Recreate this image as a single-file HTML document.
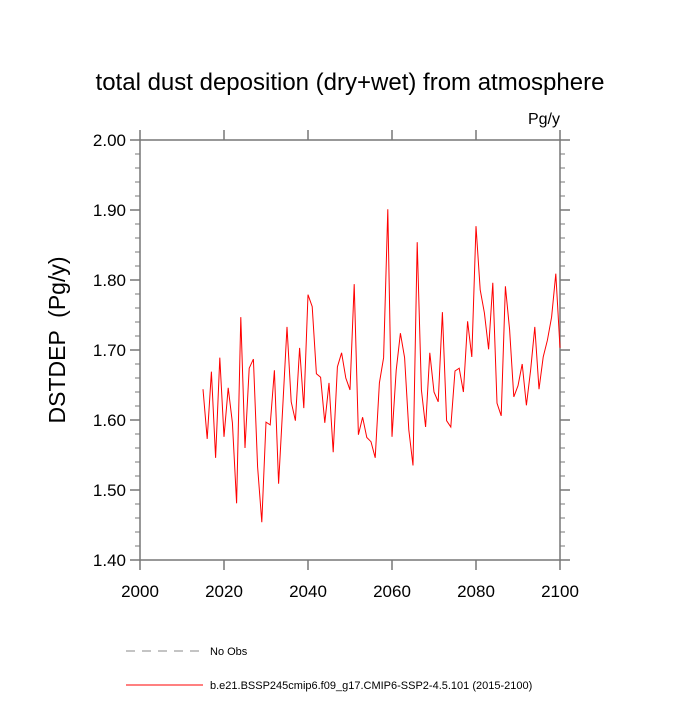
<!DOCTYPE html>
<html><head><meta charset="utf-8"><style>
body{margin:0;background:#fff;}
svg text{font-family:"Liberation Sans",sans-serif;}
</style></head><body>
<svg id="chart" width="700" height="700" xmlns="http://www.w3.org/2000/svg">
<text x="350" y="90" font-size="24" text-anchor="middle">total dust deposition (dry+wet) from atmosphere</text>
<text x="560" y="124" font-size="16" text-anchor="end">Pg/y</text>
<text transform="translate(65,340) rotate(-90)" font-size="23" text-anchor="middle" xml:space="preserve" style="white-space:pre">DSTDEP  (Pg/y)</text>
<g id="axes"></g>
<g id="series"></g>
<g>
<line x1="126" y1="651" x2="203" y2="651" stroke="#888" stroke-dasharray="9,7" stroke-width="1"/>
<text x="210" y="655" font-size="11">No Obs</text>
<line x1="126" y1="685" x2="203" y2="685" stroke="#f00" stroke-width="1"/>
<text x="210" y="689" font-size="11">b.e21.BSSP245cmip6.f09_g17.CMIP6-SSP2-4.5.101 (2015-2100)</text>
</g>
</svg>
<script>
const startYear = 2015;
const values = [1.644,1.573,1.669,1.546,1.689,1.576,1.646,1.596,1.481,1.747,1.560,1.674,1.687,1.533,1.454,1.597,1.593,1.671,1.509,1.620,1.733,1.626,1.599,1.703,1.617,1.779,1.762,1.666,1.661,1.596,1.653,1.554,1.676,1.696,1.660,1.643,1.794,1.579,1.604,1.575,1.569,1.546,1.653,1.689,1.901,1.576,1.671,1.724,1.689,1.586,1.535,1.854,1.643,1.590,1.696,1.640,1.626,1.754,1.599,1.590,1.670,1.674,1.640,1.741,1.690,1.877,1.786,1.753,1.701,1.796,1.624,1.606,1.791,1.729,1.633,1.649,1.680,1.621,1.671,1.733,1.644,1.690,1.714,1.747,1.809,1.703];
const xTicks = [2000,2020,2040,2060,2080,2100];
const yTicks = ["1.40","1.50","1.60","1.70","1.80","1.90","2.00"];
const NS="http://www.w3.org/2000/svg";
const L=140,R=560,T=140,B=560;
const AX="#777";
const xs=yr=>L+(yr-2000)/100*(R-L);
const ys=v=>B-(v-1.4)/0.6*(B-T);
const ax=document.getElementById('axes');
function ln(x1,y1,x2,y2,w){const e=document.createElementNS(NS,'line');e.setAttribute('x1',x1);e.setAttribute('y1',y1);e.setAttribute('x2',x2);e.setAttribute('y2',y2);e.setAttribute('stroke',AX);e.setAttribute('stroke-width',w||1);ax.appendChild(e);return e;}
xTicks.forEach(t=>{const x=xs(t);
const t1=ln(x,B,x,B+10,1.5);
const t2=ln(x,T,x,T-10,1.5);});
for(let i=0;i<=30;i++){const v=1.4+i*0.02;const y=ys(v);const maj=i%5===0;const a=maj?10:5;
const t1=ln(L-a,y,L,y,maj?1.5:1);
const t2=ln(R+a,y,R,y,maj?1.5:1);}
const fr=document.createElementNS(NS,'rect');
fr.setAttribute('x',L);fr.setAttribute('y',T);fr.setAttribute('width',R-L);fr.setAttribute('height',B-T);fr.setAttribute('fill','none');fr.setAttribute('stroke',AX);fr.setAttribute('stroke-width','1.5');


ax.appendChild(fr);
xTicks.forEach(t=>{const e=document.createElementNS(NS,'text');e.setAttribute('x',xs(t));e.setAttribute('y',B+37);e.setAttribute('font-size','17');e.setAttribute('text-anchor','middle');e.textContent=t;


ax.appendChild(e);});
yTicks.forEach(t=>{const e=document.createElementNS(NS,'text');e.setAttribute('x',L-14);e.setAttribute('y',ys(parseFloat(t))+6);e.setAttribute('font-size','17');e.setAttribute('text-anchor','end');e.textContent=t;


ax.appendChild(e);});
const pl=document.createElementNS(NS,'polyline');
pl.setAttribute('points',values.map((v,i)=>xs(startYear+i)+','+ys(v)).join(' '));
pl.setAttribute('fill','none');pl.setAttribute('stroke','#f00');pl.setAttribute('stroke-width','1');


document.getElementById('series').appendChild(pl);
</script>
</body></html>
